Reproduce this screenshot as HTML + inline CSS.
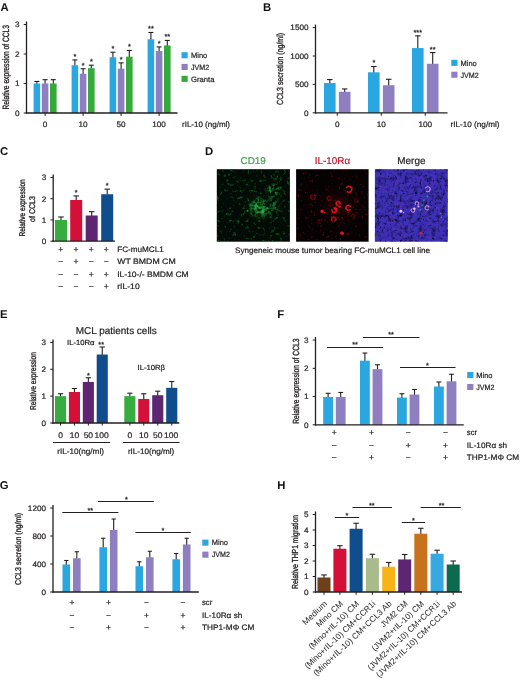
<!DOCTYPE html>
<html lang="en"><head><meta charset="utf-8"><title>Figure: IL-10 induces CCL3</title>
<style>html,body{margin:0;padding:0;background:#fff}svg{display:block}text{font-family:"Liberation Sans",Arial,Helvetica,sans-serif;text-rendering:geometricPrecision}</style></head><body>
<svg width="520" height="681" viewBox="0 0 520 681" fill="#231f20">
<rect width="520" height="681" fill="#fff"/>
<g opacity=".999">
<text x="0.4" y="10.5" font-size="11.3" font-weight="bold" fill="#111">A</text>
<line x1="26.5" y1="21.5" x2="26.5" y2="113.65" stroke="#231f20" stroke-width="1.3"/>
<line x1="23.7" y1="113" x2="26.5" y2="113" stroke="#231f20" stroke-width="1"/>
<text x="19.6" y="115.83" font-size="7.87" text-anchor="end" textLength="4.56" lengthAdjust="spacingAndGlyphs" stroke="#231f20" stroke-width=".22">0</text>
<line x1="23.7" y1="83.5" x2="26.5" y2="83.5" stroke="#231f20" stroke-width="1"/>
<text x="19.6" y="86.33" font-size="7.87" text-anchor="end" textLength="4.56" lengthAdjust="spacingAndGlyphs" stroke="#231f20" stroke-width=".22">1</text>
<line x1="23.7" y1="54" x2="26.5" y2="54" stroke="#231f20" stroke-width="1"/>
<text x="19.6" y="56.83" font-size="7.87" text-anchor="end" textLength="4.56" lengthAdjust="spacingAndGlyphs" stroke="#231f20" stroke-width=".22">2</text>
<line x1="23.7" y1="24.5" x2="26.5" y2="24.5" stroke="#231f20" stroke-width="1"/>
<text x="19.6" y="27.33" font-size="7.87" text-anchor="end" textLength="4.56" lengthAdjust="spacingAndGlyphs" stroke="#231f20" stroke-width=".22">3</text>
<line x1="36.9" y1="81.44" x2="36.9" y2="84" stroke="#231f20" stroke-width="1.1"/>
<line x1="34.4" y1="81.44" x2="39.4" y2="81.44" stroke="#231f20" stroke-width="1.1"/>
<rect x="33.6" y="83.5" width="6.6" height="29.5" fill="#2aa7e1"/>
<line x1="45.1" y1="79.67" x2="45.1" y2="84" stroke="#231f20" stroke-width="1.1"/>
<line x1="42.6" y1="79.67" x2="47.6" y2="79.67" stroke="#231f20" stroke-width="1.1"/>
<rect x="41.8" y="83.5" width="6.6" height="29.5" fill="#8f7fc1"/>
<line x1="53.3" y1="79.67" x2="53.3" y2="84" stroke="#231f20" stroke-width="1.1"/>
<line x1="50.8" y1="79.67" x2="55.8" y2="79.67" stroke="#231f20" stroke-width="1.1"/>
<rect x="50" y="83.5" width="6.6" height="29.5" fill="#35aa3a"/>
<line x1="74.9" y1="59.9" x2="74.9" y2="65.71" stroke="#231f20" stroke-width="1.1"/>
<line x1="72.4" y1="59.9" x2="77.4" y2="59.9" stroke="#231f20" stroke-width="1.1"/>
<rect x="71.6" y="65.21" width="6.6" height="47.79" fill="#2aa7e1"/>
<text x="74.9" y="58.86" font-size="7.3" text-anchor="middle" stroke="#231f20" stroke-width=".25">*</text>
<line x1="83.1" y1="68.75" x2="83.1" y2="74.27" stroke="#231f20" stroke-width="1.1"/>
<line x1="80.6" y1="68.75" x2="85.6" y2="68.75" stroke="#231f20" stroke-width="1.1"/>
<rect x="79.8" y="73.77" width="6.6" height="39.23" fill="#8f7fc1"/>
<text x="83.1" y="67.71" font-size="7.3" text-anchor="middle" stroke="#231f20" stroke-width=".25">*</text>
<line x1="91.3" y1="65.21" x2="91.3" y2="68.66" stroke="#231f20" stroke-width="1.1"/>
<line x1="88.8" y1="65.21" x2="93.8" y2="65.21" stroke="#231f20" stroke-width="1.1"/>
<rect x="88" y="68.16" width="6.6" height="44.84" fill="#35aa3a"/>
<text x="91.3" y="64.17" font-size="7.3" text-anchor="middle" stroke="#231f20" stroke-width=".25">*</text>
<line x1="112.9" y1="52.23" x2="112.9" y2="57.75" stroke="#231f20" stroke-width="1.1"/>
<line x1="110.4" y1="52.23" x2="115.4" y2="52.23" stroke="#231f20" stroke-width="1.1"/>
<rect x="109.6" y="57.25" width="6.6" height="55.75" fill="#2aa7e1"/>
<text x="112.9" y="51.19" font-size="7.3" text-anchor="middle" stroke="#231f20" stroke-width=".25">*</text>
<line x1="121.1" y1="62.85" x2="121.1" y2="69.25" stroke="#231f20" stroke-width="1.1"/>
<line x1="118.6" y1="62.85" x2="123.6" y2="62.85" stroke="#231f20" stroke-width="1.1"/>
<rect x="117.8" y="68.75" width="6.6" height="44.25" fill="#8f7fc1"/>
<text x="121.1" y="61.81" font-size="7.3" text-anchor="middle" stroke="#231f20" stroke-width=".25">*</text>
<line x1="129.3" y1="50.46" x2="129.3" y2="57.16" stroke="#231f20" stroke-width="1.1"/>
<line x1="126.8" y1="50.46" x2="131.8" y2="50.46" stroke="#231f20" stroke-width="1.1"/>
<rect x="126" y="56.66" width="6.6" height="56.34" fill="#35aa3a"/>
<text x="129.3" y="49.42" font-size="7.3" text-anchor="middle" stroke="#231f20" stroke-width=".25">*</text>
<line x1="150.9" y1="32.47" x2="150.9" y2="39.75" stroke="#231f20" stroke-width="1.1"/>
<line x1="148.4" y1="32.47" x2="153.4" y2="32.47" stroke="#231f20" stroke-width="1.1"/>
<rect x="147.6" y="39.25" width="6.6" height="73.75" fill="#2aa7e1"/>
<text x="150.9" y="31.43" font-size="7.3" text-anchor="middle" stroke="#231f20" stroke-width=".25">**</text>
<line x1="159.1" y1="46.92" x2="159.1" y2="51.55" stroke="#231f20" stroke-width="1.1"/>
<line x1="156.6" y1="46.92" x2="161.6" y2="46.92" stroke="#231f20" stroke-width="1.1"/>
<rect x="155.8" y="51.05" width="6.6" height="61.95" fill="#8f7fc1"/>
<text x="159.1" y="45.88" font-size="7.3" text-anchor="middle" stroke="#231f20" stroke-width=".25">*</text>
<line x1="167.3" y1="40.43" x2="167.3" y2="45.94" stroke="#231f20" stroke-width="1.1"/>
<line x1="164.8" y1="40.43" x2="169.8" y2="40.43" stroke="#231f20" stroke-width="1.1"/>
<rect x="164" y="45.44" width="6.6" height="67.56" fill="#35aa3a"/>
<text x="167.3" y="39.39" font-size="7.3" text-anchor="middle" stroke="#231f20" stroke-width=".25">**</text>
<line x1="25.85" y1="113" x2="177.5" y2="113" stroke="#231f20" stroke-width="1.3"/>
<line x1="45.1" y1="113" x2="45.1" y2="116" stroke="#231f20" stroke-width="1"/>
<line x1="83.1" y1="113" x2="83.1" y2="116" stroke="#231f20" stroke-width="1"/>
<line x1="121.1" y1="113" x2="121.1" y2="116" stroke="#231f20" stroke-width="1"/>
<line x1="159.1" y1="113" x2="159.1" y2="116" stroke="#231f20" stroke-width="1"/>
<text x="45.1" y="127" font-size="7.87" text-anchor="middle" textLength="4.56" lengthAdjust="spacingAndGlyphs" stroke="#231f20" stroke-width=".22">0</text>
<text x="83.1" y="127" font-size="7.87" text-anchor="middle" textLength="9.12" lengthAdjust="spacingAndGlyphs" stroke="#231f20" stroke-width=".22">10</text>
<text x="121.1" y="127" font-size="7.87" text-anchor="middle" textLength="9.12" lengthAdjust="spacingAndGlyphs" stroke="#231f20" stroke-width=".22">50</text>
<text x="159.1" y="127" font-size="7.87" text-anchor="middle" textLength="13.68" lengthAdjust="spacingAndGlyphs" stroke="#231f20" stroke-width=".22">100</text>
<text x="182" y="127" font-size="7.87" textLength="48" lengthAdjust="spacingAndGlyphs" stroke="#231f20" stroke-width=".22">rIL-10 (ng/ml)</text>
<text transform="translate(9.2 67.3) rotate(-90)" font-size="9.1" text-anchor="middle" textLength="84.5" lengthAdjust="spacingAndGlyphs" stroke="#231f20" stroke-width=".34">Relative expression of CCL3</text>
<rect x="181.5" y="52.2" width="6.2" height="6.1" fill="#2aa7e1"/>
<text x="191" y="58.01" font-size="7.68" textLength="16.2" lengthAdjust="spacingAndGlyphs" stroke="#231f20" stroke-width=".22">Mino</text>
<rect x="181.5" y="63.9" width="6.2" height="6.1" fill="#8f7fc1"/>
<text x="191" y="69.71" font-size="7.68" textLength="18.2" lengthAdjust="spacingAndGlyphs" stroke="#231f20" stroke-width=".22">JVM2</text>
<rect x="181.5" y="75.8" width="6.2" height="6.1" fill="#35aa3a"/>
<text x="191" y="81.61" font-size="7.68" textLength="23.5" lengthAdjust="spacingAndGlyphs" stroke="#231f20" stroke-width=".22">Granta</text>
<text x="263" y="10.5" font-size="11.3" font-weight="bold" fill="#111">B</text>
<line x1="315.5" y1="24.6" x2="315.5" y2="113.45" stroke="#231f20" stroke-width="1.3"/>
<line x1="312.7" y1="112.8" x2="315.5" y2="112.8" stroke="#231f20" stroke-width="1"/>
<text x="308.6" y="115.63" font-size="7.87" text-anchor="end" textLength="4.56" lengthAdjust="spacingAndGlyphs" stroke="#231f20" stroke-width=".22">0</text>
<line x1="312.7" y1="84.4" x2="315.5" y2="84.4" stroke="#231f20" stroke-width="1"/>
<text x="308.6" y="87.23" font-size="7.87" text-anchor="end" textLength="13.68" lengthAdjust="spacingAndGlyphs" stroke="#231f20" stroke-width=".22">500</text>
<line x1="312.7" y1="56" x2="315.5" y2="56" stroke="#231f20" stroke-width="1"/>
<text x="308.6" y="58.83" font-size="7.87" text-anchor="end" textLength="18.24" lengthAdjust="spacingAndGlyphs" stroke="#231f20" stroke-width=".22">1000</text>
<line x1="312.7" y1="27.6" x2="315.5" y2="27.6" stroke="#231f20" stroke-width="1"/>
<text x="308.6" y="30.43" font-size="7.87" text-anchor="end" textLength="18.24" lengthAdjust="spacingAndGlyphs" stroke="#231f20" stroke-width=".22">1500</text>
<line x1="329.8" y1="79.57" x2="329.8" y2="83.54" stroke="#231f20" stroke-width="1.1"/>
<line x1="327.05" y1="79.57" x2="332.55" y2="79.57" stroke="#231f20" stroke-width="1.1"/>
<rect x="324" y="83.04" width="11.6" height="29.76" fill="#2aa7e1"/>
<line x1="344.7" y1="88.94" x2="344.7" y2="92.28" stroke="#231f20" stroke-width="1.1"/>
<line x1="341.95" y1="88.94" x2="347.45" y2="88.94" stroke="#231f20" stroke-width="1.1"/>
<rect x="338.9" y="91.78" width="11.6" height="21.02" fill="#8f7fc1"/>
<line x1="373.8" y1="66.51" x2="373.8" y2="72.8" stroke="#231f20" stroke-width="1.1"/>
<line x1="371.05" y1="66.51" x2="376.55" y2="66.51" stroke="#231f20" stroke-width="1.1"/>
<rect x="368" y="72.3" width="11.6" height="40.5" fill="#2aa7e1"/>
<text x="373.8" y="65.47" font-size="7.3" text-anchor="middle" stroke="#231f20" stroke-width=".25">*</text>
<line x1="388.7" y1="79.29" x2="388.7" y2="85.75" stroke="#231f20" stroke-width="1.1"/>
<line x1="385.95" y1="79.29" x2="391.45" y2="79.29" stroke="#231f20" stroke-width="1.1"/>
<rect x="382.9" y="85.25" width="11.6" height="27.55" fill="#8f7fc1"/>
<line x1="417.8" y1="35.84" x2="417.8" y2="48.55" stroke="#231f20" stroke-width="1.1"/>
<line x1="415.05" y1="35.84" x2="420.55" y2="35.84" stroke="#231f20" stroke-width="1.1"/>
<rect x="412" y="48.05" width="11.6" height="64.75" fill="#2aa7e1"/>
<text x="417.8" y="34.8" font-size="7.3" text-anchor="middle" stroke="#231f20" stroke-width=".25">***</text>
<line x1="432.7" y1="52.59" x2="432.7" y2="64.28" stroke="#231f20" stroke-width="1.1"/>
<line x1="429.95" y1="52.59" x2="435.45" y2="52.59" stroke="#231f20" stroke-width="1.1"/>
<rect x="426.9" y="63.78" width="11.6" height="49.02" fill="#8f7fc1"/>
<text x="432.7" y="51.55" font-size="7.3" text-anchor="middle" stroke="#231f20" stroke-width=".25">**</text>
<line x1="314.85" y1="112.8" x2="447.5" y2="112.8" stroke="#231f20" stroke-width="1.3"/>
<line x1="337.25" y1="112.8" x2="337.25" y2="115.8" stroke="#231f20" stroke-width="1"/>
<line x1="381.25" y1="112.8" x2="381.25" y2="115.8" stroke="#231f20" stroke-width="1"/>
<line x1="425.25" y1="112.8" x2="425.25" y2="115.8" stroke="#231f20" stroke-width="1"/>
<text x="337.25" y="127" font-size="7.87" text-anchor="middle" textLength="4.56" lengthAdjust="spacingAndGlyphs" stroke="#231f20" stroke-width=".22">0</text>
<text x="381.25" y="127" font-size="7.87" text-anchor="middle" textLength="9.12" lengthAdjust="spacingAndGlyphs" stroke="#231f20" stroke-width=".22">10</text>
<text x="425.25" y="127" font-size="7.87" text-anchor="middle" textLength="13.68" lengthAdjust="spacingAndGlyphs" stroke="#231f20" stroke-width=".22">100</text>
<text x="450.5" y="127" font-size="7.87" textLength="49" lengthAdjust="spacingAndGlyphs" stroke="#231f20" stroke-width=".22">rIL-10 (ng/ml)</text>
<text transform="translate(283.1 68.9) rotate(-90)" font-size="8.8" text-anchor="middle" textLength="72" lengthAdjust="spacingAndGlyphs" stroke="#231f20" stroke-width=".34">CCL3 secretion (ng/ml)</text>
<rect x="451.3" y="59.8" width="6.2" height="6.1" fill="#2aa7e1"/>
<text x="460.5" y="65.61" font-size="7.68" textLength="16.2" lengthAdjust="spacingAndGlyphs" stroke="#231f20" stroke-width=".22">Mino</text>
<rect x="451.3" y="71.7" width="6.2" height="6.1" fill="#8f7fc1"/>
<text x="460.5" y="77.51" font-size="7.68" textLength="18.2" lengthAdjust="spacingAndGlyphs" stroke="#231f20" stroke-width=".22">JVM2</text>
<text x="0.1" y="155.2" font-size="11.3" font-weight="bold" fill="#111">C</text>
<line x1="53.2" y1="174.45" x2="53.2" y2="241.85" stroke="#231f20" stroke-width="1.3"/>
<line x1="50.4" y1="241.2" x2="53.2" y2="241.2" stroke="#231f20" stroke-width="1"/>
<text x="46.3" y="244.03" font-size="7.87" text-anchor="end" textLength="4.56" lengthAdjust="spacingAndGlyphs" stroke="#231f20" stroke-width=".22">0</text>
<line x1="50.4" y1="219.95" x2="53.2" y2="219.95" stroke="#231f20" stroke-width="1"/>
<text x="46.3" y="222.78" font-size="7.87" text-anchor="end" textLength="4.56" lengthAdjust="spacingAndGlyphs" stroke="#231f20" stroke-width=".22">1</text>
<line x1="50.4" y1="198.7" x2="53.2" y2="198.7" stroke="#231f20" stroke-width="1"/>
<text x="46.3" y="201.53" font-size="7.87" text-anchor="end" textLength="4.56" lengthAdjust="spacingAndGlyphs" stroke="#231f20" stroke-width=".22">2</text>
<line x1="50.4" y1="177.45" x2="53.2" y2="177.45" stroke="#231f20" stroke-width="1"/>
<text x="46.3" y="180.28" font-size="7.87" text-anchor="end" textLength="4.56" lengthAdjust="spacingAndGlyphs" stroke="#231f20" stroke-width=".22">3</text>
<line x1="61" y1="216.97" x2="61" y2="220.45" stroke="#231f20" stroke-width="1.1"/>
<line x1="58.25" y1="216.97" x2="63.75" y2="216.97" stroke="#231f20" stroke-width="1.1"/>
<rect x="55" y="219.95" width="12" height="21.25" fill="#38ad3f"/>
<line x1="76.2" y1="195.94" x2="76.2" y2="200.47" stroke="#231f20" stroke-width="1.1"/>
<line x1="73.45" y1="195.94" x2="78.95" y2="195.94" stroke="#231f20" stroke-width="1.1"/>
<rect x="70.2" y="199.97" width="12" height="41.22" fill="#d40f38"/>
<text x="76.2" y="195" font-size="7.3" text-anchor="middle" stroke="#231f20" stroke-width=".25">*</text>
<line x1="91.7" y1="211.66" x2="91.7" y2="215.99" stroke="#231f20" stroke-width="1.1"/>
<line x1="88.95" y1="211.66" x2="94.45" y2="211.66" stroke="#231f20" stroke-width="1.1"/>
<rect x="85.7" y="215.49" width="12" height="25.71" fill="#5e2572"/>
<line x1="107.2" y1="189.14" x2="107.2" y2="194.74" stroke="#231f20" stroke-width="1.1"/>
<line x1="104.45" y1="189.14" x2="109.95" y2="189.14" stroke="#231f20" stroke-width="1.1"/>
<rect x="101.2" y="194.24" width="12" height="46.96" fill="#0f4d8d"/>
<text x="107.2" y="188.2" font-size="7.3" text-anchor="middle" stroke="#231f20" stroke-width=".25">*</text>
<line x1="52.55" y1="241.2" x2="115" y2="241.2" stroke="#231f20" stroke-width="1.3"/>
<text transform="translate(24.5 207.9) rotate(-90)" font-size="8.3" text-anchor="middle" textLength="57.3" lengthAdjust="spacingAndGlyphs" stroke="#231f20" stroke-width=".34">Relative expression</text>
<text transform="translate(34.9 209) rotate(-90)" font-size="8.3" text-anchor="middle" textLength="25.8" lengthAdjust="spacingAndGlyphs" stroke="#231f20" stroke-width=".34">of CCL3</text>
<text x="60.8" y="252" font-size="8.16" text-anchor="middle" textLength="4.96" lengthAdjust="spacingAndGlyphs" stroke="#231f20" stroke-width=".22">+</text>
<text x="76" y="252" font-size="8.16" text-anchor="middle" textLength="4.96" lengthAdjust="spacingAndGlyphs" stroke="#231f20" stroke-width=".22">+</text>
<text x="91.2" y="252" font-size="8.16" text-anchor="middle" textLength="4.96" lengthAdjust="spacingAndGlyphs" stroke="#231f20" stroke-width=".22">+</text>
<text x="106.3" y="252" font-size="8.16" text-anchor="middle" textLength="4.96" lengthAdjust="spacingAndGlyphs" stroke="#231f20" stroke-width=".22">+</text>
<text x="117.2" y="252.1" font-size="7.87" textLength="46.5" lengthAdjust="spacingAndGlyphs" stroke="#231f20" stroke-width=".22">FC-muMCL1</text>
<text x="60.8" y="264.11" font-size="8.16" text-anchor="middle" textLength="4.96" lengthAdjust="spacingAndGlyphs" stroke="#231f20" stroke-width=".22">−</text>
<text x="76" y="264.11" font-size="8.16" text-anchor="middle" textLength="4.96" lengthAdjust="spacingAndGlyphs" stroke="#231f20" stroke-width=".22">+</text>
<text x="91.2" y="264.11" font-size="8.16" text-anchor="middle" textLength="4.96" lengthAdjust="spacingAndGlyphs" stroke="#231f20" stroke-width=".22">−</text>
<text x="106.3" y="264.11" font-size="8.16" text-anchor="middle" textLength="4.96" lengthAdjust="spacingAndGlyphs" stroke="#231f20" stroke-width=".22">−</text>
<text x="117.2" y="264.2" font-size="7.87" textLength="58.5" lengthAdjust="spacingAndGlyphs" stroke="#231f20" stroke-width=".22">WT BMDM CM</text>
<text x="60.8" y="276.61" font-size="8.16" text-anchor="middle" textLength="4.96" lengthAdjust="spacingAndGlyphs" stroke="#231f20" stroke-width=".22">−</text>
<text x="76" y="276.61" font-size="8.16" text-anchor="middle" textLength="4.96" lengthAdjust="spacingAndGlyphs" stroke="#231f20" stroke-width=".22">−</text>
<text x="91.2" y="276.61" font-size="8.16" text-anchor="middle" textLength="4.96" lengthAdjust="spacingAndGlyphs" stroke="#231f20" stroke-width=".22">+</text>
<text x="106.3" y="276.61" font-size="8.16" text-anchor="middle" textLength="4.96" lengthAdjust="spacingAndGlyphs" stroke="#231f20" stroke-width=".22">+</text>
<text x="117.2" y="276.7" font-size="7.87" textLength="71.5" lengthAdjust="spacingAndGlyphs" stroke="#231f20" stroke-width=".22">IL-10-/- BMDM CM</text>
<text x="60.8" y="289" font-size="8.16" text-anchor="middle" textLength="4.96" lengthAdjust="spacingAndGlyphs" stroke="#231f20" stroke-width=".22">−</text>
<text x="76" y="289" font-size="8.16" text-anchor="middle" textLength="4.96" lengthAdjust="spacingAndGlyphs" stroke="#231f20" stroke-width=".22">−</text>
<text x="91.2" y="289" font-size="8.16" text-anchor="middle" textLength="4.96" lengthAdjust="spacingAndGlyphs" stroke="#231f20" stroke-width=".22">−</text>
<text x="106.3" y="289" font-size="8.16" text-anchor="middle" textLength="4.96" lengthAdjust="spacingAndGlyphs" stroke="#231f20" stroke-width=".22">+</text>
<text x="117.2" y="289.1" font-size="7.87" textLength="22.5" lengthAdjust="spacingAndGlyphs" stroke="#231f20" stroke-width=".22">rIL-10</text>
<text x="205" y="155" font-size="11.3" font-weight="bold" fill="#111">D</text>
<text x="253.2" y="163.8" font-size="9.9" text-anchor="middle" textLength="25.31" lengthAdjust="spacingAndGlyphs" fill="#3aa547" stroke="#3aa547" stroke-width=".22">CD19</text>
<text x="332.4" y="163.8" font-size="9.9" text-anchor="middle" textLength="35.44" lengthAdjust="spacingAndGlyphs" fill="#c2182f" stroke="#c2182f" stroke-width=".22">IL-10Rα</text>
<text x="411.4" y="163.8" font-size="9.9" text-anchor="middle" textLength="28.06" lengthAdjust="spacingAndGlyphs" stroke="#231f20" stroke-width=".22">Merge</text>
<text x="235" y="252.6" font-size="7.87" textLength="195" lengthAdjust="spacingAndGlyphs" stroke="#231f20" stroke-width=".22">Syngeneic mouse tumor bearing FC-muMCL1 cell line</text>
<defs><filter id="b1" x="-20%" y="-20%" width="140%" height="140%"><feGaussianBlur stdDeviation="0.6"/></filter><filter id="b2" x="-20%" y="-20%" width="140%" height="140%"><feGaussianBlur stdDeviation="1.6"/></filter><filter id="b3" x="-20%" y="-20%" width="140%" height="140%"><feGaussianBlur stdDeviation="0.4"/></filter><filter id="b4" x="-20%" y="-20%" width="140%" height="140%"><feGaussianBlur stdDeviation="0.75"/></filter><radialGradient id="gg"><stop offset="0" stop-color="#35d24c" stop-opacity=".75"/><stop offset="1" stop-color="#0a300f" stop-opacity="0"/></radialGradient><clipPath id="c1"><rect x="216.8" y="169.2" width="73.1" height="72.5"/></clipPath><clipPath id="c2"><rect x="296.1" y="169.2" width="72.5" height="72.5"/></clipPath><clipPath id="c3"><rect x="374.9" y="169.2" width="72.9" height="72.5"/></clipPath></defs>
<defs>
<filter id="n1a" x="0" y="0" width="100%" height="100%" color-interpolation-filters="sRGB"><feTurbulence type="fractalNoise" baseFrequency="0.3" numOctaves="2" seed="4"/><feColorMatrix type="matrix" values="0 0 0 0 0.08  0 0 0 0 0.44  0 0 0 0 0.16  0 5.5 0 0 -3.2"/><feGaussianBlur stdDeviation="0.45"/></filter>
<filter id="n1b" x="0" y="0" width="100%" height="100%" color-interpolation-filters="sRGB"><feTurbulence type="fractalNoise" baseFrequency="0.26" numOctaves="2" seed="9"/><feColorMatrix type="matrix" values="0 0 0 0 0.17  0 0 0 0 0.78  0 0 0 0 0.29  5.5 0 0 0 -2.5"/><feGaussianBlur stdDeviation="0.4"/></filter>
<filter id="n2a" x="0" y="0" width="100%" height="100%" color-interpolation-filters="sRGB"><feTurbulence type="fractalNoise" baseFrequency="0.36" numOctaves="2" seed="6"/><feColorMatrix type="matrix" values="0 0 0 0 0.52  0 0 0 0 0.04  0 0 0 0 0.07  6 0 0 0 -3.85"/><feGaussianBlur stdDeviation="0.4"/></filter>
<filter id="n3a" x="0" y="0" width="100%" height="100%" color-interpolation-filters="sRGB"><feTurbulence type="fractalNoise" baseFrequency="0.22" numOctaves="2" seed="3"/><feColorMatrix type="matrix" values="0 0 0 0 0.07  0 0 0 0 0.06  0 0 0 0 0.27  0 0 3.4 0 -1.62"/><feGaussianBlur stdDeviation="0.5"/></filter>
<filter id="n3c" x="0" y="0" width="100%" height="100%" color-interpolation-filters="sRGB"><feTurbulence type="fractalNoise" baseFrequency="0.4" numOctaves="2" seed="12"/><feColorMatrix type="matrix" values="0 0 0 0 0.03  0 0 0 0 0.02  0 0 0 0 0.12  7 0 0 0 -4.35"/><feGaussianBlur stdDeviation="0.35"/></filter>
<filter id="n3b" x="0" y="0" width="100%" height="100%" color-interpolation-filters="sRGB"><feTurbulence type="fractalNoise" baseFrequency="0.28" numOctaves="2" seed="8"/><feColorMatrix type="matrix" values="0 0 0 0 0.42  0 0 0 0 0.2  0 0 0 0 0.7  0 5 0 0 -2.8"/><feGaussianBlur stdDeviation="0.5"/></filter>
<radialGradient id="rg"><stop offset="0" stop-color="#7a0c12" stop-opacity=".6"/><stop offset="1" stop-color="#300507" stop-opacity="0"/></radialGradient>
<radialGradient id="m1"><stop offset="0" stop-color="#fff"/><stop offset=".55" stop-color="#fff" stop-opacity=".55"/><stop offset="1" stop-color="#fff" stop-opacity="0"/></radialGradient>
<mask id="mk1" maskUnits="userSpaceOnUse" x="217" y="169" width="73" height="73"><ellipse cx="259.7" cy="207.7" rx="14" ry="12" fill="url(#m1)"/><ellipse cx="272.7" cy="190.2" rx="9" ry="8" fill="url(#m1)" opacity=".8"/><ellipse cx="277.2" cy="177.2" rx="6" ry="5" fill="url(#m1)" opacity=".45"/><ellipse cx="273.2" cy="205.2" rx="7" ry="17" fill="url(#m1)" opacity=".5"/></mask>
</defs>
<rect x="216.8" y="169.2" width="73.1" height="72.5" fill="#020b05"/>
<g clip-path="url(#c1)">
<ellipse cx="259.8" cy="207.2" rx="20" ry="18" fill="url(#gg)" opacity=".2"/>
<rect x="216.8" y="169.2" width="73.1" height="72.5" filter="url(#n1a)" opacity=".62"/>
<g mask="url(#mk1)">
<rect x="216.8" y="169.2" width="73.1" height="72.5" filter="url(#n1b)"/>
</g>
<g filter="url(#b1)">
<circle cx="247.68" cy="210.82" r="0.92" fill="#3ad457" opacity="0.69"/>
<circle cx="261.64" cy="211.57" r="1.22" fill="#28a841" opacity="0.6"/>
<circle cx="260.93" cy="204.3" r="0.58" fill="#3ad457" opacity="0.6"/>
<circle cx="257.45" cy="206.36" r="0.86" fill="#28a841" opacity="0.61"/>
<circle cx="259.37" cy="207.38" r="0.98" fill="#2fbf4a" opacity="0.36"/>
<circle cx="260.43" cy="207.2" r="1.04" fill="#28a841" opacity="0.48"/>
<circle cx="258.56" cy="207.04" r="0.76" fill="#2fbf4a" opacity="0.61"/>
<circle cx="255.83" cy="208.61" r="0.75" fill="#3ad457" opacity="0.75"/>
<circle cx="260.53" cy="206.74" r="0.71" fill="#28a841" opacity="0.36"/>
<circle cx="255.15" cy="206.08" r="0.6" fill="#2fbf4a" opacity="0.69"/>
<circle cx="251.31" cy="213.82" r="0.5" fill="#2fbf4a" opacity="0.72"/>
<circle cx="262.67" cy="208.52" r="0.84" fill="#3ad457" opacity="0.51"/>
<circle cx="266.22" cy="210.34" r="0.74" fill="#2fbf4a" opacity="0.47"/>
<circle cx="267.34" cy="208.3" r="0.87" fill="#2fbf4a" opacity="0.4"/>
<circle cx="258.01" cy="202.32" r="0.94" fill="#3ad457" opacity="0.57"/>
<circle cx="259.36" cy="207.82" r="0.67" fill="#3ad457" opacity="0.66"/>
<circle cx="255.89" cy="209.51" r="1.39" fill="#2fbf4a" opacity="0.46"/>
<circle cx="263.75" cy="207.09" r="1.22" fill="#28a841" opacity="0.75"/>
<circle cx="267.37" cy="208.48" r="1.04" fill="#3ad457" opacity="0.39"/>
<circle cx="278.1" cy="206.67" r="0.69" fill="#28a841" opacity="0.35"/>
<circle cx="257.6" cy="206.17" r="0.57" fill="#2fbf4a" opacity="0.58"/>
<circle cx="260.03" cy="212.02" r="1.04" fill="#28a841" opacity="0.6"/>
<circle cx="266.55" cy="213.48" r="0.62" fill="#28a841" opacity="0.42"/>
<circle cx="263.15" cy="211.76" r="1.32" fill="#3ad457" opacity="0.45"/>
<circle cx="260.15" cy="208.43" r="0.68" fill="#28a841" opacity="0.7"/>
<circle cx="248.48" cy="200.53" r="0.88" fill="#2fbf4a" opacity="0.39"/>
</g></g>
<rect x="296.1" y="169.2" width="72.5" height="72.5" fill="#060203"/>
<g clip-path="url(#c2)">
<rect x="296.1" y="169.2" width="72.5" height="72.5" filter="url(#n2a)" opacity=".7"/>
<ellipse cx="338.1" cy="206.2" rx="24" ry="22" fill="url(#rg)" opacity=".5"/>
<g filter="url(#b1)">
<circle cx="348.9" cy="189.2" r="2.9" fill="none" stroke="#e8121e" stroke-width="1.5" stroke-dasharray="14.5 3.77" transform="rotate(200 348.9 189.2)" opacity="0.95"/>
<circle cx="348.3" cy="207.8" r="2.4" fill="none" stroke="#e8121e" stroke-width="1.5" stroke-dasharray="12 3.12" transform="rotate(30 348.3 207.8)" opacity="0.95"/>
<circle cx="333.7" cy="219.4" r="2.2" fill="none" stroke="#e8121e" stroke-width="1.5" stroke-dasharray="11 2.86" transform="rotate(120 333.7 219.4)" opacity="0.7"/>
<circle cx="313.1" cy="196.9" r="2.3" fill="none" stroke="#e8121e" stroke-width="1.5" stroke-dasharray="11.5 2.99" transform="rotate(300 313.1 196.9)" opacity="0.42"/>
<circle cx="338.1" cy="203.4" r="2" fill="none" stroke="#e8121e" stroke-width="1.5" stroke-dasharray="10 2.6" transform="rotate(80 338.1 203.4)" opacity="0.9"/>
<circle cx="334.1" cy="210.2" r="2.2" fill="none" stroke="#e8121e" stroke-width="1.5" stroke-dasharray="11 2.86" transform="rotate(250 334.1 210.2)" opacity="1.0"/>
<circle cx="329.1" cy="198.2" r="1.9" fill="none" stroke="#e8121e" stroke-width="1.5" stroke-dasharray="9.5 2.47" transform="rotate(10 329.1 198.2)" opacity="0.35"/>
<circle cx="353.1" cy="216.2" r="1.9" fill="none" stroke="#e8121e" stroke-width="1.5" stroke-dasharray="9.5 2.47" transform="rotate(150 353.1 216.2)" opacity="0.3"/>
<circle cx="320.1" cy="221.2" r="1.8" fill="none" stroke="#e8121e" stroke-width="1.5" stroke-dasharray="9 2.34" transform="rotate(60 320.1 221.2)" opacity="0.25"/>
<circle cx="356.6" cy="200.2" r="1.8" fill="none" stroke="#e8121e" stroke-width="1.5" stroke-dasharray="9 2.34" transform="rotate(330 356.6 200.2)" opacity="0.25"/>
<circle cx="322.1" cy="211.2" r="1.7" fill="#f2141f" opacity="1"/>
<circle cx="342.1" cy="233.2" r="1.8" fill="#f2141f" opacity="0.95"/>
<circle cx="335.6" cy="208.8" r="1.4" fill="#f2141f" opacity="1"/>
<circle cx="339.6" cy="206.6" r="1.2" fill="#f2141f" opacity="0.9"/>
<circle cx="324.7" cy="212.8" r="0.9" fill="#f2141f" opacity="0.8"/>
</g></g>
<rect x="374.9" y="169.2" width="72.9" height="72.5" fill="#3d30b6"/>
<g clip-path="url(#c3)">
<rect x="374.9" y="169.2" width="72.9" height="72.5" filter="url(#n3b)" opacity=".55"/>
<rect x="374.9" y="169.2" width="72.9" height="72.5" filter="url(#n3a)" opacity=".68"/>
<rect x="374.9" y="169.2" width="72.9" height="72.5" filter="url(#n3c)" opacity=".7"/>
<g filter="url(#b1)">
<circle cx="427.7" cy="189.2" r="2.46" fill="none" stroke="#d596dc" stroke-width="1.0" stroke-dasharray="12.32 3.2" transform="rotate(200 427.7 189.2)" opacity="0.95"/>
<circle cx="427.1" cy="207.8" r="2.04" fill="none" stroke="#d596dc" stroke-width="1.0" stroke-dasharray="10.2 2.65" transform="rotate(30 427.1 207.8)" opacity="0.95"/>
<circle cx="416.9" cy="203.4" r="1.7" fill="none" stroke="#d596dc" stroke-width="1.0" stroke-dasharray="8.5 2.21" transform="rotate(120 416.9 203.4)" opacity="0.9"/>
<circle cx="412.9" cy="210.2" r="1.87" fill="none" stroke="#d596dc" stroke-width="1.0" stroke-dasharray="9.35 2.43" transform="rotate(300 412.9 210.2)" opacity="1"/>
<circle cx="400.9" cy="211.2" r="1.44" fill="#f0c4ea" opacity="1"/>
<circle cx="420.9" cy="233.2" r="1.53" fill="#d22330" opacity="0.95"/>
<circle cx="414.4" cy="208.8" r="1.19" fill="#f0c4ea" opacity="1"/>
<circle cx="418.4" cy="206.6" r="1.02" fill="#f0c4ea" opacity="0.9"/>
<circle cx="403.5" cy="212.8" r="0.77" fill="#f0c4ea" opacity="0.8"/>
<circle cx="422.4" cy="205.2" r="1" fill="#2aa98a" opacity="0.75"/>
<circle cx="423.9" cy="200.2" r="1" fill="#2aa98a" opacity="0.75"/>
<circle cx="420.4" cy="210.2" r="1" fill="#2aa98a" opacity="0.75"/>
<circle cx="427.4" cy="196.2" r="1" fill="#2aa98a" opacity="0.75"/>
<circle cx="440.9" cy="213.2" r="0.8" fill="#8a9a3a" opacity="0.7"/>
<circle cx="441.4" cy="217.2" r="0.8" fill="#8a9a3a" opacity="0.7"/>
</g></g>
<text x="0" y="318.2" font-size="11.3" font-weight="bold" fill="#111">E</text>
<text x="116.3" y="333.7" font-size="10" text-anchor="middle" textLength="81" lengthAdjust="spacingAndGlyphs" stroke="#231f20" stroke-width=".22">MCL patients cells</text>
<line x1="53" y1="339.45" x2="53" y2="423.65" stroke="#231f20" stroke-width="1.3"/>
<line x1="50.2" y1="423" x2="53" y2="423" stroke="#231f20" stroke-width="1"/>
<text x="46.1" y="425.83" font-size="7.87" text-anchor="end" textLength="4.56" lengthAdjust="spacingAndGlyphs" stroke="#231f20" stroke-width=".22">0</text>
<line x1="50.2" y1="396.15" x2="53" y2="396.15" stroke="#231f20" stroke-width="1"/>
<text x="46.1" y="398.98" font-size="7.87" text-anchor="end" textLength="4.56" lengthAdjust="spacingAndGlyphs" stroke="#231f20" stroke-width=".22">1</text>
<line x1="50.2" y1="369.3" x2="53" y2="369.3" stroke="#231f20" stroke-width="1"/>
<text x="46.1" y="372.13" font-size="7.87" text-anchor="end" textLength="4.56" lengthAdjust="spacingAndGlyphs" stroke="#231f20" stroke-width=".22">2</text>
<line x1="50.2" y1="342.45" x2="53" y2="342.45" stroke="#231f20" stroke-width="1"/>
<text x="46.1" y="345.28" font-size="7.87" text-anchor="end" textLength="4.56" lengthAdjust="spacingAndGlyphs" stroke="#231f20" stroke-width=".22">3</text>
<line x1="60.55" y1="393.73" x2="60.55" y2="396.65" stroke="#231f20" stroke-width="1.1"/>
<line x1="57.95" y1="393.73" x2="63.15" y2="393.73" stroke="#231f20" stroke-width="1.1"/>
<rect x="55" y="396.15" width="11.1" height="26.85" fill="#38ad3f"/>
<line x1="74.45" y1="388.5" x2="74.45" y2="392.49" stroke="#231f20" stroke-width="1.1"/>
<line x1="71.85" y1="388.5" x2="77.05" y2="388.5" stroke="#231f20" stroke-width="1.1"/>
<rect x="68.9" y="391.99" width="11.1" height="31.01" fill="#d40f38"/>
<line x1="88.35" y1="377.76" x2="88.35" y2="382.42" stroke="#231f20" stroke-width="1.1"/>
<line x1="85.75" y1="377.76" x2="90.95" y2="377.76" stroke="#231f20" stroke-width="1.1"/>
<rect x="82.8" y="381.92" width="11.1" height="41.08" fill="#5e2572"/>
<line x1="102.25" y1="347.01" x2="102.25" y2="355.03" stroke="#231f20" stroke-width="1.1"/>
<line x1="99.65" y1="347.01" x2="104.85" y2="347.01" stroke="#231f20" stroke-width="1.1"/>
<rect x="96.7" y="354.53" width="11.1" height="68.47" fill="#0f4d8d"/>
<line x1="129.85" y1="393.2" x2="129.85" y2="396.65" stroke="#231f20" stroke-width="1.1"/>
<line x1="127.25" y1="393.2" x2="132.45" y2="393.2" stroke="#231f20" stroke-width="1.1"/>
<rect x="124.3" y="396.15" width="11.1" height="26.85" fill="#38ad3f"/>
<line x1="143.75" y1="393.73" x2="143.75" y2="399.47" stroke="#231f20" stroke-width="1.1"/>
<line x1="141.15" y1="393.73" x2="146.35" y2="393.73" stroke="#231f20" stroke-width="1.1"/>
<rect x="138.2" y="398.97" width="11.1" height="24.03" fill="#d40f38"/>
<line x1="157.75" y1="391.18" x2="157.75" y2="395.71" stroke="#231f20" stroke-width="1.1"/>
<line x1="155.15" y1="391.18" x2="160.35" y2="391.18" stroke="#231f20" stroke-width="1.1"/>
<rect x="152.2" y="395.21" width="11.1" height="27.79" fill="#5e2572"/>
<line x1="171.75" y1="381.52" x2="171.75" y2="388.33" stroke="#231f20" stroke-width="1.1"/>
<line x1="169.15" y1="381.52" x2="174.35" y2="381.52" stroke="#231f20" stroke-width="1.1"/>
<rect x="166.2" y="387.83" width="11.1" height="35.17" fill="#0f4d8d"/>
<line x1="52.35" y1="423" x2="179.3" y2="423" stroke="#231f20" stroke-width="1.3"/>
<line x1="60.55" y1="423" x2="60.55" y2="425.6" stroke="#231f20" stroke-width="1"/>
<line x1="74.45" y1="423" x2="74.45" y2="425.6" stroke="#231f20" stroke-width="1"/>
<line x1="88.35" y1="423" x2="88.35" y2="425.6" stroke="#231f20" stroke-width="1"/>
<line x1="102.25" y1="423" x2="102.25" y2="425.6" stroke="#231f20" stroke-width="1"/>
<line x1="129.85" y1="423" x2="129.85" y2="425.6" stroke="#231f20" stroke-width="1"/>
<line x1="143.75" y1="423" x2="143.75" y2="425.6" stroke="#231f20" stroke-width="1"/>
<line x1="157.75" y1="423" x2="157.75" y2="425.6" stroke="#231f20" stroke-width="1"/>
<line x1="171.75" y1="423" x2="171.75" y2="425.6" stroke="#231f20" stroke-width="1"/>
<text x="88.3" y="377.86" font-size="7.3" text-anchor="middle" stroke="#231f20" stroke-width=".25">*</text>
<text x="101.2" y="347.16" font-size="7.3" text-anchor="middle" stroke="#231f20" stroke-width=".25">**</text>
<text x="67" y="344.8" font-size="7.3" textLength="27.5" lengthAdjust="spacingAndGlyphs" stroke="#231f20" stroke-width=".22">IL-10Rα</text>
<text x="137.5" y="369.8" font-size="7.3" textLength="27.5" lengthAdjust="spacingAndGlyphs" stroke="#231f20" stroke-width=".22">IL-10Rβ</text>
<text x="60.55" y="437.5" font-size="8.16" text-anchor="middle" textLength="4.73" lengthAdjust="spacingAndGlyphs" stroke="#231f20" stroke-width=".22">0</text>
<text x="74.45" y="437.5" font-size="8.16" text-anchor="middle" textLength="9.45" lengthAdjust="spacingAndGlyphs" stroke="#231f20" stroke-width=".22">10</text>
<text x="88.35" y="437.5" font-size="8.16" text-anchor="middle" textLength="9.45" lengthAdjust="spacingAndGlyphs" stroke="#231f20" stroke-width=".22">50</text>
<text x="101.65" y="437.5" font-size="8.16" text-anchor="middle" textLength="14.18" lengthAdjust="spacingAndGlyphs" stroke="#231f20" stroke-width=".22">100</text>
<text x="129.85" y="437.5" font-size="8.16" text-anchor="middle" textLength="4.73" lengthAdjust="spacingAndGlyphs" stroke="#231f20" stroke-width=".22">0</text>
<text x="143.75" y="437.5" font-size="8.16" text-anchor="middle" textLength="9.45" lengthAdjust="spacingAndGlyphs" stroke="#231f20" stroke-width=".22">10</text>
<text x="157.75" y="437.5" font-size="8.16" text-anchor="middle" textLength="9.45" lengthAdjust="spacingAndGlyphs" stroke="#231f20" stroke-width=".22">50</text>
<text x="171.15" y="437.5" font-size="8.16" text-anchor="middle" textLength="14.18" lengthAdjust="spacingAndGlyphs" stroke="#231f20" stroke-width=".22">100</text>
<line x1="53" y1="442.5" x2="110.2" y2="442.5" stroke="#231f20" stroke-width="1"/>
<line x1="123" y1="442.5" x2="179.6" y2="442.5" stroke="#231f20" stroke-width="1"/>
<text x="80.6" y="453.6" font-size="7.87" text-anchor="middle" textLength="46.6" lengthAdjust="spacingAndGlyphs" stroke="#231f20" stroke-width=".22">rIL-10(ng/ml)</text>
<text x="151.1" y="453.6" font-size="7.87" text-anchor="middle" textLength="46.4" lengthAdjust="spacingAndGlyphs" stroke="#231f20" stroke-width=".22">rIL-10(ng/ml)</text>
<text transform="translate(36.2 381.1) rotate(-90)" font-size="8.5" text-anchor="middle" textLength="58" lengthAdjust="spacingAndGlyphs" stroke="#231f20" stroke-width=".34">Relative expression</text>
<text x="277.3" y="318.2" font-size="11.3" font-weight="bold" fill="#111">F</text>
<line x1="315.5" y1="337.05" x2="315.5" y2="425.45" stroke="#231f20" stroke-width="1.3"/>
<line x1="312.7" y1="424.8" x2="315.5" y2="424.8" stroke="#231f20" stroke-width="1"/>
<text x="308.6" y="427.63" font-size="7.87" text-anchor="end" textLength="4.56" lengthAdjust="spacingAndGlyphs" stroke="#231f20" stroke-width=".22">0</text>
<line x1="312.7" y1="396.55" x2="315.5" y2="396.55" stroke="#231f20" stroke-width="1"/>
<text x="308.6" y="399.38" font-size="7.87" text-anchor="end" textLength="4.56" lengthAdjust="spacingAndGlyphs" stroke="#231f20" stroke-width=".22">1</text>
<line x1="312.7" y1="368.3" x2="315.5" y2="368.3" stroke="#231f20" stroke-width="1"/>
<text x="308.6" y="371.13" font-size="7.87" text-anchor="end" textLength="4.56" lengthAdjust="spacingAndGlyphs" stroke="#231f20" stroke-width=".22">2</text>
<line x1="312.7" y1="340.05" x2="315.5" y2="340.05" stroke="#231f20" stroke-width="1"/>
<text x="308.6" y="342.88" font-size="7.87" text-anchor="end" textLength="4.56" lengthAdjust="spacingAndGlyphs" stroke="#231f20" stroke-width=".22">3</text>
<line x1="328.1" y1="393.3" x2="328.1" y2="397.47" stroke="#231f20" stroke-width="1.1"/>
<line x1="325.7" y1="393.3" x2="330.5" y2="393.3" stroke="#231f20" stroke-width="1.1"/>
<rect x="323.2" y="396.97" width="9.8" height="27.83" fill="#2aa7e1"/>
<line x1="340.7" y1="392.45" x2="340.7" y2="397.47" stroke="#231f20" stroke-width="1.1"/>
<line x1="338.3" y1="392.45" x2="343.1" y2="392.45" stroke="#231f20" stroke-width="1.1"/>
<rect x="335.8" y="396.97" width="9.8" height="27.83" fill="#8f7fc1"/>
<line x1="364.9" y1="353.05" x2="364.9" y2="361.17" stroke="#231f20" stroke-width="1.1"/>
<line x1="362.5" y1="353.05" x2="367.3" y2="353.05" stroke="#231f20" stroke-width="1.1"/>
<rect x="360" y="360.67" width="9.8" height="64.13" fill="#2aa7e1"/>
<line x1="377.5" y1="364.77" x2="377.5" y2="369.65" stroke="#231f20" stroke-width="1.1"/>
<line x1="375.1" y1="364.77" x2="379.9" y2="364.77" stroke="#231f20" stroke-width="1.1"/>
<rect x="372.6" y="369.15" width="9.8" height="55.65" fill="#8f7fc1"/>
<line x1="401.9" y1="393.73" x2="401.9" y2="398.04" stroke="#231f20" stroke-width="1.1"/>
<line x1="399.5" y1="393.73" x2="404.3" y2="393.73" stroke="#231f20" stroke-width="1.1"/>
<rect x="397" y="397.54" width="9.8" height="27.26" fill="#2aa7e1"/>
<line x1="414.5" y1="389.49" x2="414.5" y2="395.07" stroke="#231f20" stroke-width="1.1"/>
<line x1="412.1" y1="389.49" x2="416.9" y2="389.49" stroke="#231f20" stroke-width="1.1"/>
<rect x="409.6" y="394.57" width="9.8" height="30.23" fill="#8f7fc1"/>
<line x1="438.9" y1="382" x2="438.9" y2="387.02" stroke="#231f20" stroke-width="1.1"/>
<line x1="436.5" y1="382" x2="441.3" y2="382" stroke="#231f20" stroke-width="1.1"/>
<rect x="434" y="386.52" width="9.8" height="38.28" fill="#2aa7e1"/>
<line x1="451.5" y1="374.23" x2="451.5" y2="381.8" stroke="#231f20" stroke-width="1.1"/>
<line x1="449.1" y1="374.23" x2="453.9" y2="374.23" stroke="#231f20" stroke-width="1.1"/>
<rect x="446.6" y="381.3" width="9.8" height="43.5" fill="#8f7fc1"/>
<line x1="314.85" y1="424.8" x2="463.8" y2="424.8" stroke="#231f20" stroke-width="1.3"/>
<line x1="327" y1="347.5" x2="383" y2="347.5" stroke="#231f20" stroke-width="1"/>
<text x="355" y="347.36" font-size="7.3" text-anchor="middle" stroke="#231f20" stroke-width=".25">**</text>
<line x1="363" y1="337.5" x2="419.5" y2="337.5" stroke="#231f20" stroke-width="1"/>
<text x="391" y="337.46" font-size="7.3" text-anchor="middle" stroke="#231f20" stroke-width=".25">**</text>
<line x1="400" y1="367.5" x2="455.5" y2="367.5" stroke="#231f20" stroke-width="1"/>
<text x="427.5" y="367.86" font-size="7.3" text-anchor="middle" stroke="#231f20" stroke-width=".25">*</text>
<text transform="translate(298.8 381.1) rotate(-90)" font-size="8.9" text-anchor="middle" textLength="85.3" lengthAdjust="spacingAndGlyphs" stroke="#231f20" stroke-width=".34">Relative expression of CCL3</text>
<rect x="467.2" y="372" width="6.2" height="6.1" fill="#2aa7e1"/>
<text x="476.3" y="377.81" font-size="7.68" textLength="16.2" lengthAdjust="spacingAndGlyphs" stroke="#231f20" stroke-width=".22">Mino</text>
<rect x="467.2" y="383.9" width="6.2" height="6.1" fill="#8f7fc1"/>
<text x="476.3" y="389.71" font-size="7.68" textLength="18.2" lengthAdjust="spacingAndGlyphs" stroke="#231f20" stroke-width=".22">JVM2</text>
<text x="334.3" y="434.81" font-size="8.16" text-anchor="middle" textLength="4.96" lengthAdjust="spacingAndGlyphs" stroke="#231f20" stroke-width=".22">+</text>
<text x="371.5" y="434.81" font-size="8.16" text-anchor="middle" textLength="4.96" lengthAdjust="spacingAndGlyphs" stroke="#231f20" stroke-width=".22">+</text>
<text x="408.2" y="434.81" font-size="8.16" text-anchor="middle" textLength="4.96" lengthAdjust="spacingAndGlyphs" stroke="#231f20" stroke-width=".22">−</text>
<text x="445.5" y="434.81" font-size="8.16" text-anchor="middle" textLength="4.96" lengthAdjust="spacingAndGlyphs" stroke="#231f20" stroke-width=".22">−</text>
<text x="466.8" y="434.9" font-size="7.87" textLength="10.3" lengthAdjust="spacingAndGlyphs" stroke="#231f20" stroke-width=".22">scr</text>
<text x="334.3" y="447.61" font-size="8.16" text-anchor="middle" textLength="4.96" lengthAdjust="spacingAndGlyphs" stroke="#231f20" stroke-width=".22">−</text>
<text x="371.5" y="447.61" font-size="8.16" text-anchor="middle" textLength="4.96" lengthAdjust="spacingAndGlyphs" stroke="#231f20" stroke-width=".22">−</text>
<text x="408.2" y="447.61" font-size="8.16" text-anchor="middle" textLength="4.96" lengthAdjust="spacingAndGlyphs" stroke="#231f20" stroke-width=".22">+</text>
<text x="445.5" y="447.61" font-size="8.16" text-anchor="middle" textLength="4.96" lengthAdjust="spacingAndGlyphs" stroke="#231f20" stroke-width=".22">+</text>
<text x="466.8" y="447.7" font-size="7.87" textLength="40.3" lengthAdjust="spacingAndGlyphs" stroke="#231f20" stroke-width=".22">IL-10Rα sh</text>
<text x="334.3" y="460.11" font-size="8.16" text-anchor="middle" textLength="4.96" lengthAdjust="spacingAndGlyphs" stroke="#231f20" stroke-width=".22">−</text>
<text x="371.5" y="460.11" font-size="8.16" text-anchor="middle" textLength="4.96" lengthAdjust="spacingAndGlyphs" stroke="#231f20" stroke-width=".22">+</text>
<text x="408.2" y="460.11" font-size="8.16" text-anchor="middle" textLength="4.96" lengthAdjust="spacingAndGlyphs" stroke="#231f20" stroke-width=".22">−</text>
<text x="445.5" y="460.11" font-size="8.16" text-anchor="middle" textLength="4.96" lengthAdjust="spacingAndGlyphs" stroke="#231f20" stroke-width=".22">+</text>
<text x="466.8" y="460.2" font-size="7.87" textLength="52.3" lengthAdjust="spacingAndGlyphs" stroke="#231f20" stroke-width=".22">THP1-MΦ CM</text>
<text x="-0.2" y="488.7" font-size="11.3" font-weight="bold" fill="#111">G</text>
<line x1="53" y1="505" x2="53" y2="592.65" stroke="#231f20" stroke-width="1.3"/>
<line x1="50.2" y1="592" x2="53" y2="592" stroke="#231f20" stroke-width="1"/>
<text x="46.1" y="594.83" font-size="7.87" text-anchor="end" textLength="4.56" lengthAdjust="spacingAndGlyphs" stroke="#231f20" stroke-width=".22">0</text>
<line x1="50.2" y1="564" x2="53" y2="564" stroke="#231f20" stroke-width="1"/>
<text x="46.1" y="566.83" font-size="7.87" text-anchor="end" textLength="13.68" lengthAdjust="spacingAndGlyphs" stroke="#231f20" stroke-width=".22">400</text>
<line x1="50.2" y1="536" x2="53" y2="536" stroke="#231f20" stroke-width="1"/>
<text x="46.1" y="538.83" font-size="7.87" text-anchor="end" textLength="13.68" lengthAdjust="spacingAndGlyphs" stroke="#231f20" stroke-width=".22">800</text>
<line x1="50.2" y1="508" x2="53" y2="508" stroke="#231f20" stroke-width="1"/>
<text x="46.1" y="510.83" font-size="7.87" text-anchor="end" textLength="18.24" lengthAdjust="spacingAndGlyphs" stroke="#231f20" stroke-width=".22">1200</text>
<line x1="66.3" y1="560.5" x2="66.3" y2="564.99" stroke="#231f20" stroke-width="1.1"/>
<line x1="64.2" y1="560.5" x2="68.4" y2="560.5" stroke="#231f20" stroke-width="1.1"/>
<rect x="62.5" y="564.49" width="7.6" height="27.51" fill="#2aa7e1"/>
<line x1="76.8" y1="551.75" x2="76.8" y2="558.76" stroke="#231f20" stroke-width="1.1"/>
<line x1="74.7" y1="551.75" x2="78.9" y2="551.75" stroke="#231f20" stroke-width="1.1"/>
<rect x="73" y="558.26" width="7.6" height="33.74" fill="#8f7fc1"/>
<line x1="103.2" y1="538.24" x2="103.2" y2="547.77" stroke="#231f20" stroke-width="1.1"/>
<line x1="101.1" y1="538.24" x2="105.3" y2="538.24" stroke="#231f20" stroke-width="1.1"/>
<rect x="99.4" y="547.27" width="7.6" height="44.73" fill="#2aa7e1"/>
<line x1="113.7" y1="518.99" x2="113.7" y2="530.48" stroke="#231f20" stroke-width="1.1"/>
<line x1="111.6" y1="518.99" x2="115.8" y2="518.99" stroke="#231f20" stroke-width="1.1"/>
<rect x="109.9" y="529.98" width="7.6" height="62.02" fill="#8f7fc1"/>
<line x1="139.3" y1="561.76" x2="139.3" y2="566.74" stroke="#231f20" stroke-width="1.1"/>
<line x1="137.2" y1="561.76" x2="141.4" y2="561.76" stroke="#231f20" stroke-width="1.1"/>
<rect x="135.5" y="566.24" width="7.6" height="25.76" fill="#2aa7e1"/>
<line x1="149.8" y1="551.26" x2="149.8" y2="557.78" stroke="#231f20" stroke-width="1.1"/>
<line x1="147.7" y1="551.26" x2="151.9" y2="551.26" stroke="#231f20" stroke-width="1.1"/>
<rect x="146" y="557.28" width="7.6" height="34.72" fill="#8f7fc1"/>
<line x1="176.2" y1="553.5" x2="176.2" y2="559.74" stroke="#231f20" stroke-width="1.1"/>
<line x1="174.1" y1="553.5" x2="178.3" y2="553.5" stroke="#231f20" stroke-width="1.1"/>
<rect x="172.4" y="559.24" width="7.6" height="32.76" fill="#2aa7e1"/>
<line x1="186.7" y1="538.24" x2="186.7" y2="544.97" stroke="#231f20" stroke-width="1.1"/>
<line x1="184.6" y1="538.24" x2="188.8" y2="538.24" stroke="#231f20" stroke-width="1.1"/>
<rect x="182.9" y="544.47" width="7.6" height="47.53" fill="#8f7fc1"/>
<line x1="52.35" y1="592" x2="198.8" y2="592" stroke="#231f20" stroke-width="1.3"/>
<line x1="62.3" y1="512.5" x2="118.4" y2="512.5" stroke="#231f20" stroke-width="1"/>
<text x="90.3" y="512.76" font-size="7.3" text-anchor="middle" stroke="#231f20" stroke-width=".25">**</text>
<line x1="98" y1="501.5" x2="153.8" y2="501.5" stroke="#231f20" stroke-width="1"/>
<text x="126.3" y="501.76" font-size="7.3" text-anchor="middle" stroke="#231f20" stroke-width=".25">*</text>
<line x1="135.5" y1="532.5" x2="190.8" y2="532.5" stroke="#231f20" stroke-width="1"/>
<text x="162.9" y="532.66" font-size="7.3" text-anchor="middle" stroke="#231f20" stroke-width=".25">*</text>
<text transform="translate(20.5 548.9) rotate(-90)" font-size="8.4" text-anchor="middle" textLength="72" lengthAdjust="spacingAndGlyphs" stroke="#231f20" stroke-width=".34">CCL3 secretion (ng/ml)</text>
<rect x="202.3" y="539.6" width="6.2" height="6.1" fill="#2aa7e1"/>
<text x="211.8" y="545.41" font-size="7.68" textLength="16.2" lengthAdjust="spacingAndGlyphs" stroke="#231f20" stroke-width=".22">Mino</text>
<rect x="202.3" y="551.6" width="6.2" height="6.1" fill="#8f7fc1"/>
<text x="211.8" y="557.41" font-size="7.68" textLength="18.2" lengthAdjust="spacingAndGlyphs" stroke="#231f20" stroke-width=".22">JVM2</text>
<text x="72" y="605.1" font-size="8.16" text-anchor="middle" textLength="4.96" lengthAdjust="spacingAndGlyphs" stroke="#231f20" stroke-width=".22">+</text>
<text x="108.5" y="605.1" font-size="8.16" text-anchor="middle" textLength="4.96" lengthAdjust="spacingAndGlyphs" stroke="#231f20" stroke-width=".22">+</text>
<text x="146.5" y="605.1" font-size="8.16" text-anchor="middle" textLength="4.96" lengthAdjust="spacingAndGlyphs" stroke="#231f20" stroke-width=".22">−</text>
<text x="183" y="605.1" font-size="8.16" text-anchor="middle" textLength="4.96" lengthAdjust="spacingAndGlyphs" stroke="#231f20" stroke-width=".22">−</text>
<text x="202" y="605.2" font-size="7.87" textLength="10.3" lengthAdjust="spacingAndGlyphs" stroke="#231f20" stroke-width=".22">scr</text>
<text x="72" y="617.8" font-size="8.16" text-anchor="middle" textLength="4.96" lengthAdjust="spacingAndGlyphs" stroke="#231f20" stroke-width=".22">−</text>
<text x="108.5" y="617.8" font-size="8.16" text-anchor="middle" textLength="4.96" lengthAdjust="spacingAndGlyphs" stroke="#231f20" stroke-width=".22">−</text>
<text x="146.5" y="617.8" font-size="8.16" text-anchor="middle" textLength="4.96" lengthAdjust="spacingAndGlyphs" stroke="#231f20" stroke-width=".22">+</text>
<text x="183" y="617.8" font-size="8.16" text-anchor="middle" textLength="4.96" lengthAdjust="spacingAndGlyphs" stroke="#231f20" stroke-width=".22">+</text>
<text x="202" y="617.9" font-size="7.87" textLength="40.3" lengthAdjust="spacingAndGlyphs" stroke="#231f20" stroke-width=".22">IL-10Rα sh</text>
<text x="72" y="630.3" font-size="8.16" text-anchor="middle" textLength="4.96" lengthAdjust="spacingAndGlyphs" stroke="#231f20" stroke-width=".22">−</text>
<text x="108.5" y="630.3" font-size="8.16" text-anchor="middle" textLength="4.96" lengthAdjust="spacingAndGlyphs" stroke="#231f20" stroke-width=".22">+</text>
<text x="146.5" y="630.3" font-size="8.16" text-anchor="middle" textLength="4.96" lengthAdjust="spacingAndGlyphs" stroke="#231f20" stroke-width=".22">−</text>
<text x="183" y="630.3" font-size="8.16" text-anchor="middle" textLength="4.96" lengthAdjust="spacingAndGlyphs" stroke="#231f20" stroke-width=".22">+</text>
<text x="202" y="630.4" font-size="7.87" textLength="52.3" lengthAdjust="spacingAndGlyphs" stroke="#231f20" stroke-width=".22">THP1-MΦ CM</text>
<text x="277.3" y="488.8" font-size="11.3" font-weight="bold" fill="#111">H</text>
<line x1="315.5" y1="511.5" x2="315.5" y2="592.65" stroke="#231f20" stroke-width="1.3"/>
<line x1="312.7" y1="592" x2="315.5" y2="592" stroke="#231f20" stroke-width="1"/>
<text x="308.6" y="594.83" font-size="7.87" text-anchor="end" textLength="4.56" lengthAdjust="spacingAndGlyphs" stroke="#231f20" stroke-width=".22">0</text>
<line x1="312.7" y1="576.5" x2="315.5" y2="576.5" stroke="#231f20" stroke-width="1"/>
<text x="308.6" y="579.33" font-size="7.87" text-anchor="end" textLength="4.56" lengthAdjust="spacingAndGlyphs" stroke="#231f20" stroke-width=".22">1</text>
<line x1="312.7" y1="561" x2="315.5" y2="561" stroke="#231f20" stroke-width="1"/>
<text x="308.6" y="563.83" font-size="7.87" text-anchor="end" textLength="4.56" lengthAdjust="spacingAndGlyphs" stroke="#231f20" stroke-width=".22">2</text>
<line x1="312.7" y1="545.5" x2="315.5" y2="545.5" stroke="#231f20" stroke-width="1"/>
<text x="308.6" y="548.33" font-size="7.87" text-anchor="end" textLength="4.56" lengthAdjust="spacingAndGlyphs" stroke="#231f20" stroke-width=".22">3</text>
<line x1="312.7" y1="530" x2="315.5" y2="530" stroke="#231f20" stroke-width="1"/>
<text x="308.6" y="532.83" font-size="7.87" text-anchor="end" textLength="4.56" lengthAdjust="spacingAndGlyphs" stroke="#231f20" stroke-width=".22">4</text>
<line x1="312.7" y1="514.5" x2="315.5" y2="514.5" stroke="#231f20" stroke-width="1"/>
<text x="308.6" y="517.33" font-size="7.87" text-anchor="end" textLength="4.56" lengthAdjust="spacingAndGlyphs" stroke="#231f20" stroke-width=".22">5</text>
<line x1="324" y1="574.95" x2="324" y2="578.01" stroke="#231f20" stroke-width="1.1"/>
<line x1="321.25" y1="574.95" x2="326.75" y2="574.95" stroke="#231f20" stroke-width="1.1"/>
<rect x="317.5" y="577.51" width="13" height="14.49" fill="#6e3f1c"/>
<line x1="339.9" y1="545.73" x2="339.9" y2="549.25" stroke="#231f20" stroke-width="1.1"/>
<line x1="337.15" y1="545.73" x2="342.65" y2="545.73" stroke="#231f20" stroke-width="1.1"/>
<rect x="333.4" y="548.75" width="13" height="43.25" fill="#d40f38"/>
<line x1="356.1" y1="523.26" x2="356.1" y2="529.26" stroke="#231f20" stroke-width="1.1"/>
<line x1="353.35" y1="523.26" x2="358.85" y2="523.26" stroke="#231f20" stroke-width="1.1"/>
<rect x="349.6" y="528.76" width="13" height="63.24" fill="#0f4d8d"/>
<line x1="372.4" y1="554.26" x2="372.4" y2="558.71" stroke="#231f20" stroke-width="1.1"/>
<line x1="369.65" y1="554.26" x2="375.15" y2="554.26" stroke="#231f20" stroke-width="1.1"/>
<rect x="365.9" y="558.21" width="13" height="33.79" fill="#a9ba8b"/>
<line x1="388.7" y1="562.47" x2="388.7" y2="567.24" stroke="#231f20" stroke-width="1.1"/>
<line x1="385.95" y1="562.47" x2="391.45" y2="562.47" stroke="#231f20" stroke-width="1.1"/>
<rect x="382.2" y="566.74" width="13" height="25.26" fill="#f6b417"/>
<line x1="404.7" y1="554.49" x2="404.7" y2="559.95" stroke="#231f20" stroke-width="1.1"/>
<line x1="401.95" y1="554.49" x2="407.45" y2="554.49" stroke="#231f20" stroke-width="1.1"/>
<rect x="398.2" y="559.45" width="13" height="32.55" fill="#5e2572"/>
<line x1="420.8" y1="528.29" x2="420.8" y2="534.22" stroke="#231f20" stroke-width="1.1"/>
<line x1="418.05" y1="528.29" x2="423.55" y2="528.29" stroke="#231f20" stroke-width="1.1"/>
<rect x="414.3" y="533.72" width="13" height="58.28" fill="#c7721c"/>
<line x1="437.1" y1="550.23" x2="437.1" y2="554.22" stroke="#231f20" stroke-width="1.1"/>
<line x1="434.35" y1="550.23" x2="439.85" y2="550.23" stroke="#231f20" stroke-width="1.1"/>
<rect x="430.6" y="553.72" width="13" height="38.28" fill="#36a9e1"/>
<line x1="453.2" y1="561" x2="453.2" y2="564.99" stroke="#231f20" stroke-width="1.1"/>
<line x1="450.45" y1="561" x2="455.95" y2="561" stroke="#231f20" stroke-width="1.1"/>
<rect x="446.7" y="564.49" width="13" height="27.51" fill="#0c6a4e"/>
<line x1="314.85" y1="592" x2="462" y2="592" stroke="#231f20" stroke-width="1.3"/>
<line x1="324" y1="592" x2="324" y2="594.8" stroke="#231f20" stroke-width="1"/>
<line x1="339.9" y1="592" x2="339.9" y2="594.8" stroke="#231f20" stroke-width="1"/>
<line x1="356.1" y1="592" x2="356.1" y2="594.8" stroke="#231f20" stroke-width="1"/>
<line x1="372.4" y1="592" x2="372.4" y2="594.8" stroke="#231f20" stroke-width="1"/>
<line x1="388.7" y1="592" x2="388.7" y2="594.8" stroke="#231f20" stroke-width="1"/>
<line x1="404.7" y1="592" x2="404.7" y2="594.8" stroke="#231f20" stroke-width="1"/>
<line x1="420.8" y1="592" x2="420.8" y2="594.8" stroke="#231f20" stroke-width="1"/>
<line x1="437.1" y1="592" x2="437.1" y2="594.8" stroke="#231f20" stroke-width="1"/>
<line x1="453.2" y1="592" x2="453.2" y2="594.8" stroke="#231f20" stroke-width="1"/>
<text transform="translate(327.6 604.4) rotate(-43.5)" font-size="8.3" text-anchor="end" textLength="30.5" lengthAdjust="spacingAndGlyphs">Medium</text>
<text transform="translate(343.5 604.4) rotate(-43.5)" font-size="8.3" text-anchor="end" textLength="33.5" lengthAdjust="spacingAndGlyphs">Mino CM</text>
<text transform="translate(359.7 604.4) rotate(-43.5)" font-size="8.3" text-anchor="end" textLength="66" lengthAdjust="spacingAndGlyphs">(Mino+rIL-10) CM</text>
<text transform="translate(376 604.4) rotate(-43.5)" font-size="8.3" text-anchor="end" textLength="94" lengthAdjust="spacingAndGlyphs">(Mino+rIL-10) CM+CCR1i</text>
<text transform="translate(392.3 604.4) rotate(-43.5)" font-size="8.3" text-anchor="end" textLength="104.5" lengthAdjust="spacingAndGlyphs">(Mino+rIL-10) CM+CCL3 Ab</text>
<text transform="translate(408.3 604.4) rotate(-43.5)" font-size="8.3" text-anchor="end" textLength="34" lengthAdjust="spacingAndGlyphs">JVM2 CM</text>
<text transform="translate(424.4 604.4) rotate(-43.5)" font-size="8.3" text-anchor="end" textLength="68.5" lengthAdjust="spacingAndGlyphs">(JVM2+rIL-10) CM</text>
<text transform="translate(440.7 604.4) rotate(-43.5)" font-size="8.3" text-anchor="end" textLength="96.5" lengthAdjust="spacingAndGlyphs">(JVM2+rIL-10) CM+CCR1i</text>
<text transform="translate(456.8 604.4) rotate(-43.5)" font-size="8.3" text-anchor="end" textLength="107" lengthAdjust="spacingAndGlyphs">(JVM2+rIL-10) CM+CCL3 Ab</text>
<line x1="334.8" y1="517.5" x2="359.2" y2="517.5" stroke="#231f20" stroke-width="1"/>
<text x="346.8" y="517.86" font-size="7.3" text-anchor="middle" stroke="#231f20" stroke-width=".25">*</text>
<line x1="352.5" y1="507.5" x2="392" y2="507.5" stroke="#231f20" stroke-width="1"/>
<text x="371.8" y="507.56" font-size="7.3" text-anchor="middle" stroke="#231f20" stroke-width=".25">**</text>
<line x1="401.8" y1="522.5" x2="425" y2="522.5" stroke="#231f20" stroke-width="1"/>
<text x="413.4" y="522.56" font-size="7.3" text-anchor="middle" stroke="#231f20" stroke-width=".25">*</text>
<line x1="420.6" y1="507.5" x2="460.8" y2="507.5" stroke="#231f20" stroke-width="1"/>
<text x="441.6" y="508.06" font-size="7.3" text-anchor="middle" stroke="#231f20" stroke-width=".25">**</text>
<text transform="translate(298.4 552) rotate(-90)" font-size="8.7" text-anchor="middle" textLength="74" lengthAdjust="spacingAndGlyphs" stroke="#231f20" stroke-width=".34">Relative THP1 migration</text>
</g></svg></body></html>
